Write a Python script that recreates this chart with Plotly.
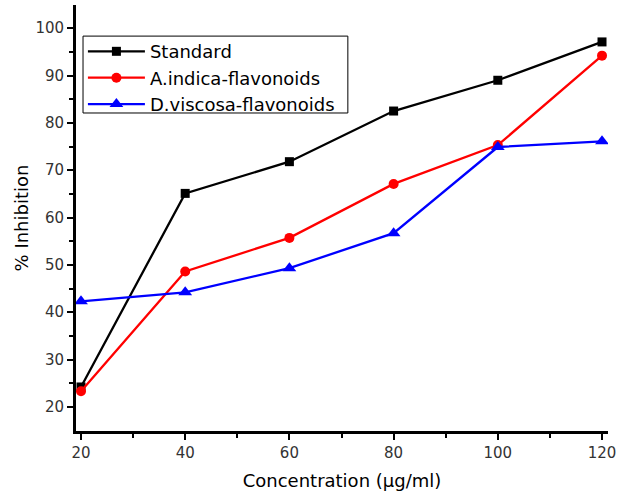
import plotly.graph_objects as go

conc = [20, 40, 60, 80, 100, 120]
standard = [24.2, 65.1, 71.8, 82.5, 89.0, 97.1]
a_indica = [23.3, 48.6, 55.7, 67.1, 75.3, 94.2]
d_viscosa = [42.3, 44.2, 49.3, 56.7, 74.9, 76.1]

series = [
    ("Standard", standard, "black", "square", 9),
    ("A.indica-flavonoids", a_indica, "red", "circle", 10),
    ("D.viscosa-flavonoids", d_viscosa, "blue", "triangle-up", 12),
]

fig = go.Figure()
for name, vals, col, sym, sz in series:
    fig.add_trace(go.Scatter(
        x=conc, y=vals, name=name, mode="lines+markers",
        line=dict(color=col, width=2.3),
        marker=dict(symbol=sym, size=sz, color=col),
    ))

# legend frame drawn as a shape (paper coordinates)
fig.add_shape(type="rect", xref="paper", yref="paper",
              x0=0.0132, x1=0.511, y0=0.7465, y1=0.927,
              line=dict(color="black", width=1), fillcolor="white", layer="above")

font = "DejaVu Sans, sans-serif"
fig.update_layout(
    width=618, height=495,
    margin=dict(l=76, r=10, t=5, b=64),
    plot_bgcolor="white", paper_bgcolor="white",
    font=dict(family=font, size=15, color="#222"),
    showlegend=True,
    legend=dict(
        x=0.013, y=0.934, xanchor="left", yanchor="top",
        bgcolor="rgba(0,0,0,0)", borderwidth=0,
        font=dict(size=18, color="black"),
        itemwidth=57, tracegroupgap=0,
    ),
    xaxis=dict(
        range=[19.04, 121.15], tickvals=conc, automargin=False,
        showgrid=False, zeroline=False,
        showline=True, linecolor="black", linewidth=2.8,
        ticks="outside", ticklen=6, tickwidth=2, tickcolor="black",
        minor=dict(tickvals=[30, 50, 70, 90, 110], ticks="outside", ticklen=4, tickwidth=2, tickcolor="black"),
        title=dict(text="Concentration (µg/ml)", font=dict(size=18, color="black"), standoff=14),
        tickfont=dict(size=15, color="#333"),
    ),
    yaxis=dict(
        range=[14.9, 104.9], tickvals=[20, 30, 40, 50, 60, 70, 80, 90, 100], automargin=False,
        showgrid=False, zeroline=False,
        showline=True, linecolor="black", linewidth=2.8,
        ticks="outside", ticklen=6, tickwidth=2, tickcolor="black",
        minor=dict(tickvals=[25, 35, 45, 55, 65, 75, 85, 95], ticks="outside", ticklen=4, tickwidth=2, tickcolor="black"),
        title=dict(text="% Inhibition", font=dict(size=18, color="black"), standoff=3),
        tickfont=dict(size=15, color="#333"),
    ),
)

fig.write_html("out.html")
